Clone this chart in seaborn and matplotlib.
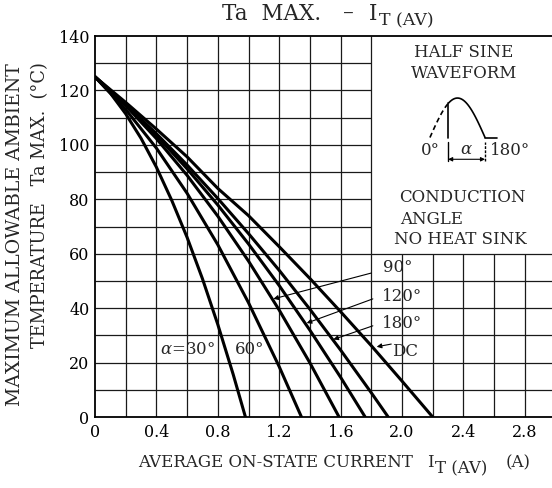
import numpy as np
import pandas as pd
import seaborn as sns
import matplotlib
matplotlib.use("Agg")
import matplotlib.pyplot as plt

# curves: average current (A) vs max ambient temp (C)
curve_names = ["30", "60", "90", "120", "180", "DC"]
i_30 = [0, 0.1, 0.2, 0.3, 0.4, 0.5, 0.6, 0.7, 0.8, 0.9, 0.98]
t_30 = [125, 119, 111.4, 102.4, 91.8, 79.6, 66, 50.8, 34, 15.7, 0]
i_60 = [0, 0.2, 0.4, 0.6, 0.8, 1.0, 1.2, 1.345]
t_60 = [125, 113, 98.8, 82.2, 63.3, 42, 18.5, 0]
i_90 = [0, 0.2, 0.4, 0.6, 0.8, 1.0, 1.2, 1.4, 1.59]
t_90 = [125, 114.4, 102.3, 88.8, 73.8, 57.3, 39.3, 19.9, 0]
i_120 = [0, 0.2, 0.4, 0.6, 0.8, 1.0, 1.2, 1.4, 1.6, 1.76]
t_120 = [125, 114.7, 103.5, 91.2, 77.9, 63.6, 48.3, 31.9, 14.6, 0]
i_180 = [0, 0.2, 0.4, 0.6, 0.8, 1.0, 1.2, 1.4, 1.6, 1.8, 1.91]
t_180 = [125, 114.9, 104.1, 92.6, 80.3, 67.4, 53.9, 39.6, 24.6, 8.9, 0]
i_dc = [0, 0.2, 0.4, 0.6, 0.8, 1.0, 1.2, 1.4, 1.6, 1.8, 2.0, 2.2]
t_dc = [125, 115.6, 105.8, 95.6, 84.0, 74.0, 62.6, 50.9, 38.7, 26.2, 13.2, 0]

x_ticks = [0, 0.4, 0.8, 1.2, 1.6, 2.0, 2.4, 2.8]
x_tick_labels = ["0", "0.4", "0.8", "1.2", "1.6", "2.0", "2.4", "2.8"]
y_ticks = [0, 20, 40, 60, 80, 100, 120, 140]

# arrow labels: text, text position, arrow start, arrow tip
arrow_labels = ["90°", "120°", "180°", "DC"]
arrow_text_xy = [(1.875, 54.9), (1.868, 44.3), (1.868, 34.3), (1.935, 24.1)]
arrow_from = [(1.80, 52.9), (1.81, 43.4), (1.81, 33.5), (1.93, 26.8)]
arrow_to = [(1.162, 43.4), (1.379, 34.5), (1.553, 28.5), (1.835, 25.8)]

FS = 12

# long form table for seaborn
rows = []
for name, xs, ys in zip(curve_names,
                        [i_30, i_60, i_90, i_120, i_180, i_dc],
                        [t_30, t_60, t_90, t_120, t_180, t_dc]):
    for a, b in zip(xs, ys):
        rows.append({"curve": name, "I": a, "Ta": b})
df = pd.DataFrame(rows)

sns.set_theme(style="white")
plt.rcParams["font.family"] = ["DejaVu Serif"]
plt.rcParams["mathtext.fontset"] = "dejavuserif"

W, H = 552, 488
fig = plt.figure(figsize=(W / 100, H / 100), dpi=100)
ax = fig.add_axes([95 / W, 71 / H, 457 / W, 381 / H])

xmax = 457 / 153.5
ax.set_xlim(0, xmax)
ax.set_ylim(0, 140)

# grid (left open in the upper right where the notes sit)
box_x, box_y = 1.8, 60
for gx in np.arange(0.2, 3.0, 0.2):
    top = 140 if gx <= box_x + 1e-6 else box_y
    ax.vlines(gx, 0, top, color="#1a1a1a", lw=0.9, zorder=1)
for gy in np.arange(10, 140, 10):
    right = xmax if gy <= box_y + 1e-6 else box_x
    ax.hlines(gy, 0, right, color="#1a1a1a", lw=0.9, zorder=1)

sns.lineplot(data=df, x="I", y="Ta", hue="curve", palette=["black"] * 6,
             sort=False, estimator=None, legend=False, lw=2.2, ax=ax, zorder=3)

for sp in ["left", "bottom", "top"]:
    ax.spines[sp].set_color("black")
    ax.spines[sp].set_linewidth(1.3)
ax.spines["right"].set_visible(False)

ax.set_xticks(x_ticks)
ax.set_xticklabels(x_tick_labels)
ax.set_yticks(y_ticks)
ax.tick_params(axis="both", length=0, labelsize=11.5, colors="black")
ax.tick_params(axis="x", pad=5)
ax.tick_params(axis="y", pad=4)
ax.set_xlabel("")
ax.set_ylabel("")

for lab, txy, a0, a1 in zip(arrow_labels, arrow_text_xy, arrow_from, arrow_to):
    ax.text(txy[0], txy[1], lab, fontsize=FS, ha="left", va="center", zorder=4)
    ax.annotate("", xy=a1, xytext=a0,
                arrowprops=dict(arrowstyle="-|>", color="black", lw=0.8,
                                mutation_scale=7, shrinkA=0, shrinkB=0))

ax.text(0.605, 24.7, r"$\alpha$=30°", fontsize=FS, ha="center", va="center")
ax.text(1.01, 24.7, "60°", fontsize=FS, ha="center", va="center")

# notes in the upper right
ax.text(2.404, 134, "HALF SINE", fontsize=FS, ha="center", va="center")
ax.text(2.404, 126.1, "WAVEFORM", fontsize=FS, ha="center", va="center")
ax.text(1.98, 80.6, "CONDUCTION", fontsize=FS, ha="left", va="center")
ax.text(1.987, 72.6, "ANGLE", fontsize=FS, ha="left", va="center")
ax.text(1.948, 65.2, "NO HEAT SINK", fontsize=FS, ha="left", va="center")

# small half sine icon
w0, w1, base, amp = 2.182, 2.541, 102.7, 14.5
cut = w0 + 0.33 * (w1 - w0)
ph = np.linspace(0, np.pi, 60)
wx = w0 + (w1 - w0) * ph / np.pi
wy = base + amp * np.sin(ph)
on = wx >= cut
ax.plot(wx[on], wy[on], color="black", lw=1.2)
ax.plot(wx[~on], wy[~on], color="black", lw=1.2, ls=(0, (3, 2)))
ax.plot([cut, cut], [base, wy[on][0]], color="black", lw=1.2)
ax.plot([w1, 2.617], [base, base], color="black", lw=1.2)
ax.plot([cut, cut], [94, 101], color="black", lw=1.0)
ax.plot([w1, w1], [94, 101], color="black", lw=1.0, ls=(0, (2, 1)))
ax.annotate("", xy=(w1, 94.7), xytext=(cut, 94.7),
            arrowprops=dict(arrowstyle="<|-|>", color="black", lw=0.8,
                            mutation_scale=6, shrinkA=0, shrinkB=0))
ax.text(2.248, 97.8, "0°", fontsize=FS, ha="right", va="center")
ax.text(2.42, 98.4, r"$\alpha$", fontsize=FS, ha="center", va="center")
ax.text(2.573, 97.8, "180°", fontsize=FS, ha="left", va="center")


def fig_text(px, py, s, size):
    # place text by its left end and baseline, in pixels from the top left
    fig.text(px / W, 1 - py / H, s, fontsize=size, ha="left", va="baseline")


# title with the subscript dropped below the baseline
fig_text(222, 20, "Ta  MAX.", 15.5)
fig_text(343, 20, "–", 15.5)
fig_text(369, 20, "I", 15.5)
fig_text(379, 25, "T (AV)", 12.5)

# x axis title
fig_text(138, 467, "AVERAGE ON-STATE CURRENT", FS)
fig_text(427, 467, "I", FS)
fig_text(435, 473, "T (AV)", FS)
fig_text(506, 467, "(A)", FS)

fig.text(15 / W, 1 - 63 / H, "MAXIMUM ALLOWABLE AMBIENT",
         fontsize=13.6, rotation=90, ha="center", va="top")
fig.text(40 / W, 1 - 62 / H, "TEMPERATURE   Ta MAX.  (°C)",
         fontsize=12.8, rotation=90, ha="center", va="top")

fig.savefig("out.png", dpi=100)
